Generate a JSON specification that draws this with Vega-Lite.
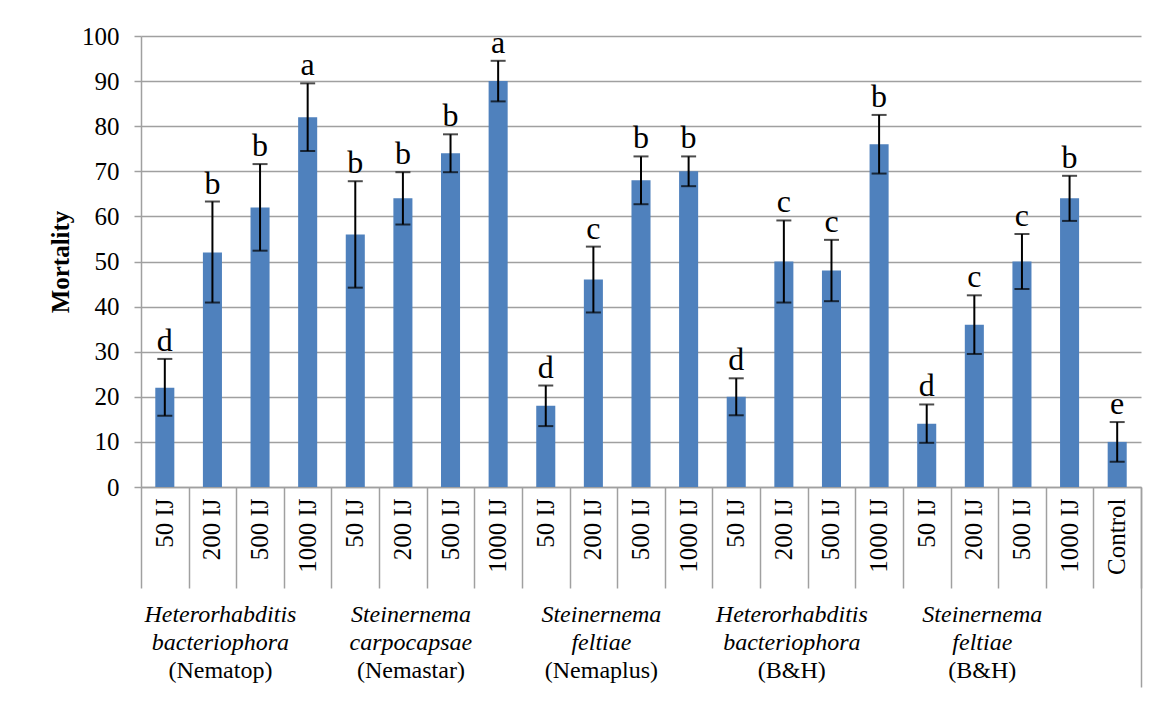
{
  "$schema": "https://vega.github.io/schema/vega-lite/v6.json",
  "autosize": "none",
  "width": 1000,
  "height": 451,
  "padding": {"left": 141, "top": 36, "right": 21, "bottom": 228},
  "background": "white",
  "config": {
    "view": {"stroke": null},
    "font": "Liberation Serif",
    "axis": {"labelFont": "Liberation Serif", "titleFont": "Liberation Serif", "labelColor": "black", "titleColor": "black"},
    "axisX": {"grid": false},
    "axisY": {
      "titleFontSize": 25, "titleFontWeight": "bold", "titlePadding": 8,
      "values": [0, 10, 20, 30, 40, 50, 60, 70, 80, 90, 100],
      "labelFontSize": 25, "labelPadding": 15,
      "grid": true, "gridColor": "#A0A0A0", "gridWidth": 1.5,
      "domainColor": "#A0A0A0", "domainWidth": 1.5,
      "tickColor": "#A0A0A0", "tickWidth": 1.5, "tickSize": 7
    }
  },
  "data": {
    "values": [
      {"bar": "Heterorhabditis bacteriophora|(Nematop)|50 IJ", "mortality": 22, "low": 15.8, "high": 28.4, "letter": "d"},
      {"bar": "Heterorhabditis bacteriophora|(Nematop)|200 IJ", "mortality": 52, "low": 40.9, "high": 63.3, "letter": "b"},
      {"bar": "Heterorhabditis bacteriophora|(Nematop)|500 IJ", "mortality": 62, "low": 52.4, "high": 71.6, "letter": "b"},
      {"bar": "Heterorhabditis bacteriophora|(Nematop)|1000 IJ", "mortality": 82, "low": 74.5, "high": 89.5, "letter": "a"},
      {"bar": "Steinernema carpocapsae|(Nemastar)|50 IJ", "mortality": 56, "low": 44.2, "high": 67.8, "letter": "b"},
      {"bar": "Steinernema carpocapsae|(Nemastar)|200 IJ", "mortality": 64, "low": 58.2, "high": 69.8, "letter": "b"},
      {"bar": "Steinernema carpocapsae|(Nemastar)|500 IJ", "mortality": 74, "low": 69.8, "high": 78.2, "letter": "b"},
      {"bar": "Steinernema carpocapsae|(Nemastar)|1000 IJ", "mortality": 90, "low": 85.5, "high": 94.5, "letter": "a"},
      {"bar": "Steinernema feltiae|(Nemaplus)|50 IJ", "mortality": 18, "low": 13.5, "high": 22.5, "letter": "d"},
      {"bar": "Steinernema feltiae|(Nemaplus)|200 IJ", "mortality": 46, "low": 38.7, "high": 53.3, "letter": "c"},
      {"bar": "Steinernema feltiae|(Nemaplus)|500 IJ", "mortality": 68, "low": 62.7, "high": 73.3, "letter": "b"},
      {"bar": "Steinernema feltiae|(Nemaplus)|1000 IJ", "mortality": 70, "low": 66.7, "high": 73.3, "letter": "b"},
      {"bar": "Heterorhabditis bacteriophora|(B&H)|50 IJ", "mortality": 20, "low": 15.9, "high": 24.1, "letter": "d"},
      {"bar": "Heterorhabditis bacteriophora|(B&H)|200 IJ", "mortality": 50, "low": 40.9, "high": 59.1, "letter": "c"},
      {"bar": "Heterorhabditis bacteriophora|(B&H)|500 IJ", "mortality": 48, "low": 41.2, "high": 54.8, "letter": "c"},
      {"bar": "Heterorhabditis bacteriophora|(B&H)|1000 IJ", "mortality": 76, "low": 69.5, "high": 82.5, "letter": "b"},
      {"bar": "Steinernema feltiae|(B&H)|50 IJ", "mortality": 14, "low": 9.8, "high": 18.3, "letter": "d"},
      {"bar": "Steinernema feltiae|(B&H)|200 IJ", "mortality": 36, "low": 29.5, "high": 42.5, "letter": "c"},
      {"bar": "Steinernema feltiae|(B&H)|500 IJ", "mortality": 50, "low": 43.9, "high": 56.1, "letter": "c"},
      {"bar": "Steinernema feltiae|(B&H)|1000 IJ", "mortality": 64, "low": 59, "high": 69, "letter": "b"},
      {"bar": "||Control", "mortality": 10, "low": 5.6, "high": 14.4, "letter": "e"}
    ]
  },
  "resolve": {"axis": {"x": "independent"}},
  "layer": [
    {
      "mark": {"type": "bar", "color": "#4F81BD", "width": {"band": 0.4}},
      "encoding": {
        "x": {
          "field": "bar", "type": "nominal", "sort": null,
          "scale": {"paddingInner": 0, "paddingOuter": 0},
          "axis": {
            "orient": "bottom", "title": null, "ticks": false, "domain": true,
            "domainColor": "#A0A0A0", "domainWidth": 1.5,
            "labelExpr": "split(datum.value, '|')[2]",
            "labelAngle": 270, "labelFontSize": 25, "labelPadding": 11,
            "labelOverlap": false, "labelFlush": false
          }
        },
        "y": {
          "field": "mortality", "type": "quantitative", "title": "Mortality",
          "scale": {"domain": [0, 100], "nice": false}
        }
      }
    },
    {
      "mark": {"type": "rule", "color": "black", "strokeWidth": 2},
      "encoding": {
        "x": {
          "field": "bar", "type": "nominal", "sort": null,
          "axis": {
            "orient": "bottom", "title": null, "labels": false, "domain": false,
            "tickBand": "extent", "tickSize": 101, "tickColor": "#A0A0A0", "tickWidth": 1.5
          }
        },
        "y": {"field": "low", "type": "quantitative", "title": "Mortality"},
        "y2": {"field": "high"}
      }
    },
    {
      "mark": {"type": "tick", "color": "black", "thickness": 2, "size": 15},
      "encoding": {
        "x": {
          "field": "bar", "type": "nominal", "sort": null,
          "axis": {
            "orient": "bottom", "title": null, "ticks": false, "domain": false,
            "values": ["Heterorhabditis bacteriophora|(Nematop)|200 IJ", "Steinernema carpocapsae|(Nemastar)|200 IJ", "Steinernema feltiae|(Nemaplus)|200 IJ", "Heterorhabditis bacteriophora|(B&H)|200 IJ", "Steinernema feltiae|(B&H)|200 IJ"],
            "bandPosition": 1,
            "labelExpr": "split(split(datum.value, '|')[0], ' ')",
            "labelAngle": 0, "labelAlign": "center", "labelBaseline": "top",
            "labelFontSize": 24, "labelFontStyle": "italic", "labelLineHeight": 28,
            "labelPadding": 115, "labelOffset": 8,
            "labelOverlap": false, "labelFlush": false, "labelBound": false
          }
        },
        "y": {"field": "high", "type": "quantitative", "title": "Mortality"}
      }
    },
    {
      "mark": {"type": "tick", "color": "black", "thickness": 2, "size": 15},
      "encoding": {
        "x": {
          "field": "bar", "type": "nominal", "sort": null,
          "axis": {
            "orient": "bottom", "title": null, "ticks": false, "domain": false,
            "values": ["Heterorhabditis bacteriophora|(Nematop)|200 IJ", "Steinernema carpocapsae|(Nemastar)|200 IJ", "Steinernema feltiae|(Nemaplus)|200 IJ", "Heterorhabditis bacteriophora|(B&H)|200 IJ", "Steinernema feltiae|(B&H)|200 IJ"],
            "bandPosition": 1,
            "labelExpr": "split(datum.value, '|')[1]",
            "labelAngle": 0, "labelAlign": "center", "labelBaseline": "top",
            "labelFontSize": 24,
            "labelPadding": 171, "labelOffset": 8,
            "labelOverlap": false, "labelFlush": false, "labelBound": false
          }
        },
        "y": {"field": "low", "type": "quantitative", "title": "Mortality"}
      }
    },
    {
      "mark": {"type": "text", "fontSize": 32, "baseline": "alphabetic", "dy": -8, "color": "black"},
      "encoding": {
        "x": {
          "field": "bar", "type": "nominal", "sort": null,
          "axis": {
            "orient": "bottom", "title": null, "labels": false, "domain": false, "grid": false,
            "values": ["||Control"], "bandPosition": 1,
            "tickSize": 200, "tickColor": "#A0A0A0", "tickWidth": 1.5
          }
        },
        "y": {"field": "high", "type": "quantitative", "title": "Mortality"},
        "text": {"field": "letter"}
      }
    }
  ]
}
